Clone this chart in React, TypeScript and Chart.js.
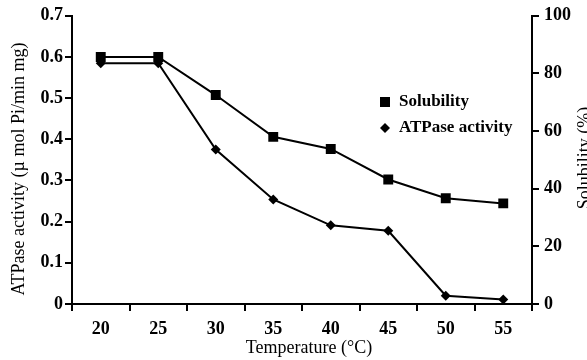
import React, { useEffect, useRef } from "react";
import { Chart, registerables } from "chart.js";

Chart.register(...registerables);

const categories = ["20", "25", "30", "35", "40", "45", "50", "55"];
const atpaseActivity = [0.585, 0.585, 0.375, 0.254, 0.191, 0.178, 0.02, 0.011];
const solubility = [85.7, 85.7, 72.5, 58.0, 53.8, 43.2, 36.7, 34.9];
const leftTitle = "ATPase activity (\u00b5 mol Pi/min mg)";
const rightTitle = "Solubility (%)";
const bottomTitle = "Temperature (\u00b0C)";
const legendLabels = ["Solubility", "ATPase activity"];

const FONT = "'Liberation Serif', 'Times New Roman', serif";

const overlayPlugin = {
  id: "overlay",
  afterDraw(chart: any) {
    const ctx = chart.ctx;
    const area = chart.chartArea;
    ctx.save();
    ctx.fillStyle = "#000";
    // left title
    ctx.font = `18px ${FONT}`;
    ctx.textAlign = "center";
    ctx.textBaseline = "middle";
    ctx.save();
    ctx.translate(19, 169);
    ctx.rotate(-Math.PI / 2);
    ctx.fillText(leftTitle, 0, 0);
    ctx.restore();
    // right title (cut by the edge)
    ctx.save();
    ctx.translate(576, 158);
    ctx.rotate(-Math.PI / 2);
    ctx.textBaseline = "top";
    ctx.fillText(rightTitle, 0, 0);
    ctx.restore();
    // bottom title
    ctx.textBaseline = "middle";
    ctx.fillText(bottomTitle, (area.left + area.right) / 2 + 7, 348);
    // legend
    const lx = 385;
    const ly1 = 102;
    const ly2 = 128;
    ctx.fillRect(lx - 5, ly1 - 5, 10, 10);
    ctx.beginPath();
    ctx.moveTo(lx, ly2 - 5);
    ctx.lineTo(lx + 5, ly2);
    ctx.lineTo(lx, ly2 + 5);
    ctx.lineTo(lx - 5, ly2);
    ctx.closePath();
    ctx.fill();
    ctx.font = `bold 17px ${FONT}`;
    ctx.textAlign = "left";
    ctx.fillText(legendLabels[0], 399, ly1);
    ctx.fillText(legendLabels[1], 399, ly2);
    ctx.restore();
  },
};

export default function App() {
  const ref = useRef<HTMLCanvasElement | null>(null);
  useEffect(() => {
    if (!ref.current) return;
    const tickFont = { family: FONT, size: 18, weight: "bold" as const };
    const axisGrid = {
      drawOnChartArea: false,
      drawTicks: true,
      tickLength: 7,
      color: "#000",
      lineWidth: 2,
    };
    const chart = new Chart(ref.current, {
      type: "line",
      data: {
        labels: categories,
        datasets: [
          {
            label: legendLabels[0],
            data: solubility,
            yAxisID: "y1",
            borderColor: "#000",
            backgroundColor: "#000",
            borderWidth: 2,
            pointStyle: "rect",
            pointRadius: 7,
            pointBorderWidth: 0,
            tension: 0,
          },
          {
            label: legendLabels[1],
            data: atpaseActivity,
            yAxisID: "y",
            borderColor: "#000",
            backgroundColor: "#000",
            borderWidth: 2,
            pointStyle: "rectRot",
            pointRadius: 5,
            pointBorderWidth: 0,
            tension: 0,
          },
        ],
      },
      options: {
        animation: false,
        responsive: false,
        devicePixelRatio: 1,
        layout: { padding: { top: 15, left: 0, right: 0, bottom: 0 } },
        plugins: { legend: { display: false }, tooltip: { enabled: false } },
        scales: {
          x: {
            type: "category",
            offset: true,
            grid: { ...axisGrid, offset: true },
            border: { color: "#000", width: 2 },
            ticks: { font: tickFont, color: "#000", padding: 8, maxRotation: 0 },
            afterFit: (s: any) => {
              s.height = 56;
            },
          },
          y: {
            position: "left",
            min: 0,
            max: 0.7,
            grid: axisGrid,
            border: { color: "#000", width: 2 },
            ticks: { stepSize: 0.1, font: tickFont, color: "#000", padding: 2 },
            afterFit: (s: any) => {
              s.width = 72;
            },
          },
          y1: {
            position: "right",
            min: 0,
            max: 100,
            grid: axisGrid,
            border: { color: "#000", width: 2 },
            ticks: { stepSize: 20, font: tickFont, color: "#000", padding: 5 },
            afterFit: (s: any) => {
              s.width = 55;
            },
          },
        },
      },
      plugins: [overlayPlugin],
    } as any);
    return () => chart.destroy();
  }, []);
  return (
    <div style={{ position: "fixed", left: 0, top: 0, width: 587, height: 360, background: "#fff" }}>
      <canvas ref={ref} width={587} height={360} style={{ width: 587, height: 360 }} />
    </div>
  );
}
